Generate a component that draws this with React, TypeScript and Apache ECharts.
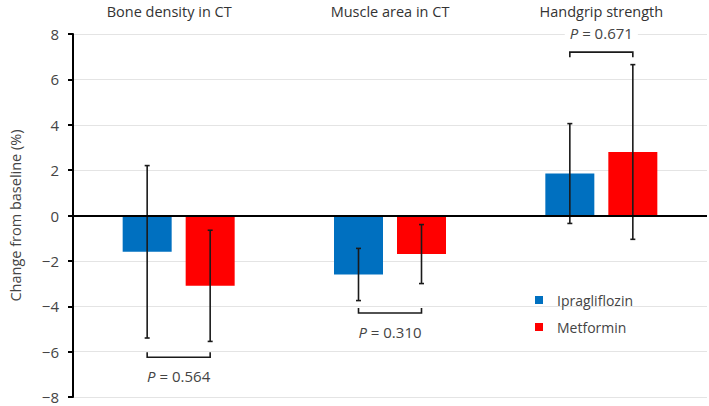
import React, { useEffect, useRef } from "react";
import * as echarts from "echarts";

const categories = ["Bone density in CT", "Muscle area in CT", "Handgrip strength"];
const ipraMean = [-1.6, -2.6, 1.85];
const ipraErr = [3.8, 1.15, 2.2];
const metMean = [-3.1, -1.7, 2.8];
const metErr = [2.45, 1.3, 3.85];
const yTicks = { min: -8, max: 8, interval: 2 };
// bracket: [category index, y level, direction of end ticks (1 up, -1 down), p text]
const brackets: [number, number, number, string][] = [
  [0, -6.25, 1, "0.564"],
  [1, -4.3, 1, "0.310"],
  [2, 7.2, -1, "0.671"],
];

const FONT = "'Open Sans', 'Noto Sans', sans-serif";
const BAR_W = 49;
const BAR_GAP_PX = 14;
const OFF = (BAR_W + BAR_GAP_PX) / 2;

export default function App() {
  const ref = useRef<HTMLDivElement>(null);
  useEffect(() => {
    if (!ref.current) return;
    const chart = echarts.init(ref.current, undefined, { renderer: "svg" });

    const errData = (means: number[], errs: number[]) =>
      means.map((m, i) => [i, m - errs[i], m + errs[i]]);

    const errRender = (offset: number) => (params: any, api: any) => {
      const i = api.value(0);
      const lo = api.coord([i, api.value(1)]);
      const hi = api.coord([i, api.value(2)]);
      const x = lo[0] + offset;
      const cap = 2.5;
      const st = { stroke: "#1a1a1a", lineWidth: 1.6 };
      return {
        type: "group",
        children: [
          { type: "line", shape: { x1: x, y1: lo[1], x2: x, y2: hi[1] }, style: st },
          { type: "line", shape: { x1: x - cap, y1: lo[1], x2: x + cap, y2: lo[1] }, style: st },
          { type: "line", shape: { x1: x - cap, y1: hi[1], x2: x + cap, y2: hi[1] }, style: st },
        ],
      };
    };

    const bracketRender = (params: any, api: any) => {
      const b = brackets[params.dataIndex];
      const p = api.coord([b[0], b[1]]);
      const dir = b[2];
      const t = 5;
      const x1 = p[0] - OFF;
      const x2 = p[0] + OFF;
      const y = p[1];
      const st = { stroke: "#1a1a1a", lineWidth: 1.6, fill: "none" };
      return {
        type: "group",
        children: [
          {
            type: "polyline",
            shape: { points: [[x1, y - dir * t], [x1, y], [x2, y], [x2, y - dir * t]] },
            style: st,
          },
          {
            type: "text",
            style: {
              x: p[0],
              y: y + dir * 19,
              text: "{i|P} = " + b[3],
              align: "center",
              verticalAlign: "middle",
              fill: "#444",
              fontSize: 15,
              fontFamily: FONT,
              backgroundColor: "#fff",
              padding: [0, 5],
              rich: {
                i: { fontStyle: "italic", fontSize: 15, fontFamily: FONT, fill: "#444" },
              },
            },
          },
        ],
      };
    };

    chart.setOption({
      animation: false,
      grid: { left: 62, right: 2, top: 34, bottom: 9 },
      legend: {
        orient: "vertical",
        left: 530,
        top: 287,
        itemWidth: 8,
        itemHeight: 8,
        itemGap: 11,
        icon: "rect",
        data: ["Ipragliflozin", "Metformin"],
        textStyle: {
          fontSize: 14,
          lineHeight: 16,
          color: "#444",
          fontFamily: FONT,
          padding: [0, 0, 0, 9],
        },
      },
      xAxis: {
        type: "category",
        position: "top",
        data: categories.map((c, i) =>
          i === 0 ? { value: c, textStyle: { padding: [0, 19, 0, 0] } } : c
        ),
        axisLine: { show: false },
        axisTick: { show: false },
        axisLabel: { fontSize: 14.5, color: "#333", fontFamily: FONT, margin: 15 },
      },
      yAxis: {
        type: "value",
        min: yTicks.min,
        max: yTicks.max,
        interval: yTicks.interval,
        name: "Change from baseline (%)",
        nameLocation: "middle",
        nameGap: 50,
        nameTextStyle: { fontSize: 14.5, color: "#444", fontFamily: FONT },
        axisLine: { show: true, lineStyle: { color: "#000", width: 2 } },
        axisTick: { show: true, length: 5, lineStyle: { color: "#000", width: 2 } },
        axisLabel: {
          fontSize: 15,
          color: "#444",
          fontFamily: FONT,
          margin: 14,
          formatter: (v: number) => (v < 0 ? "\u2212" + Math.abs(v) : String(v)),
        },
        splitLine: { show: true, lineStyle: { color: "#e4e4e4", width: 1 } },
      },
      series: [
        {
          name: "Ipragliflozin",
          type: "bar",
          data: ipraMean,
          barWidth: BAR_W,
          barGap: (BAR_GAP_PX / BAR_W) * 100 + "%",
          itemStyle: { color: "#0070c0" },
          markLine: {
            silent: true,
            symbol: "none",
            label: { show: false },
            lineStyle: { color: "#000", width: 2, type: "solid" },
            data: [{ yAxis: 0 }],
            z: 10,
          },
        },
        {
          name: "Metformin",
          type: "bar",
          data: metMean,
          barWidth: BAR_W,
          itemStyle: { color: "#ff0000" },
        },
        {
          type: "custom",
          data: errData(ipraMean, ipraErr),
          renderItem: errRender(-OFF),
          z: 5,
          silent: true,
        },
        {
          type: "custom",
          data: errData(metMean, metErr),
          renderItem: errRender(OFF),
          z: 5,
          silent: true,
        },
        {
          type: "custom",
          data: brackets.map((b) => [b[0], b[1]]),
          renderItem: bracketRender,
          z: 6,
          silent: true,
        },
      ],
    });
    return () => chart.dispose();
  }, []);
  return (
    <div
      ref={ref}
      style={{ position: "absolute", left: 0, top: 0, width: 709, height: 406 }}
    />
  );
}
